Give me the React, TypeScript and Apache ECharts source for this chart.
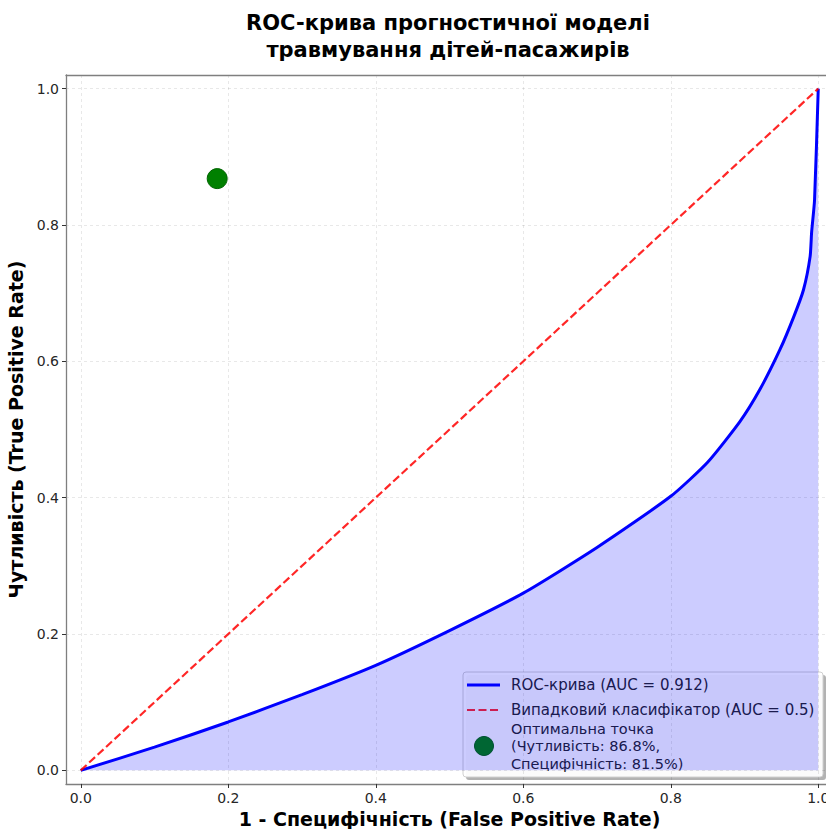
import React, { useEffect, useRef } from "react";
import * as echarts from "echarts";

const fpr = [0, 0.1, 0.2, 0.3, 0.4, 0.5, 0.6, 0.7, 0.8, 0.85, 0.894, 0.921, 0.948, 0.967, 0.98, 0.989, 0.991, 0.995, 1.0];
const tpr = [0, 0.034, 0.071, 0.111, 0.154, 0.205, 0.26, 0.327, 0.402, 0.452, 0.512, 0.559, 0.617, 0.666, 0.705, 0.754, 0.789, 0.837, 1.0];
const diagX = [0, 1];
const diagY = [0, 1];
const optimalPoint = [0.185, 0.868];
const tickValues = [0, 0.2, 0.4, 0.6, 0.8, 1.0];

const titleText = "ROC-крива прогностичної моделі\nтравмування дітей-пасажирів";
const xName = "1 - Специфічність (False Positive Rate)";
const yName = "Чутливість (True Positive Rate)";
const legendRoc = "ROC-крива (AUC = 0.912)";
const legendRandom = "Випадковий класифікатор (AUC = 0.5)";
const legendOptLines = ["Оптимальна точка", "(Чутливість: 86.8%,", "Специфічність: 81.5%)"];

const FONT = "DejaVu Sans";
const SPINE = { show: true, onZero: false, lineStyle: { color: "#7f7f7f", width: 1.3 } };

export default function App() {
  const ref = useRef<HTMLDivElement>(null);
  useEffect(() => {
    if (!ref.current) return;
    const chart = echarts.init(ref.current, null, { renderer: "svg" });
    const axisCommon = (name: string, gap: number, min: number, max: number) => ({
      type: "value",
      min,
      max,
      name,
      nameLocation: "middle",
      nameGap: gap,
      nameTextStyle: { fontFamily: FONT, fontSize: 19, fontWeight: "bold", color: "#000" },
      axisLine: SPINE,
      axisTick: { show: true, customValues: tickValues, length: 4, lineStyle: { color: "#333", width: 1 } },
      axisLabel: {
        customValues: tickValues,
        formatter: (v: number) => v.toFixed(1),
        fontFamily: FONT,
        fontSize: 14,
        color: "#262626",
        margin: 7,
        hideOverlap: false,
      },
      splitLine: { show: true, lineStyle: { color: "rgba(0,0,0,0.09)", type: [3, 3], width: 1 } },
    });
    const xMin = -0.02;
    const xMax = 1.02;
    const legendOptTexts = legendOptLines.map((t, i) => ({
      type: "text",
      x: 511,
      y: 728.5 + i * 17.5,
      style: { text: t, fontFamily: FONT, fontSize: 14.5, fill: "#222", verticalAlign: "middle" },
    }));
    chart.setOption({
      animation: false,
      backgroundColor: "#fff",
      title: {
        text: titleText,
        left: 443,
        top: 4,
        textAlign: "center",
        textStyle: { fontFamily: FONT, fontSize: 21, fontWeight: "bold", color: "#000", lineHeight: 27 },
      },
      grid: { left: 66, top: 75, right: -7, bottom: 45, outerBoundsMode: "none", containLabel: false },
      xAxis: [
        { ...axisCommon(xName, 23, xMin, xMax), position: "bottom" },
        {
          type: "value",
          position: "top",
          min: xMin,
          max: xMax,
          axisLine: SPINE,
          axisTick: { show: false },
          axisLabel: { show: false },
          splitLine: { show: false },
        },
      ],
      yAxis: axisCommon(yName, 34, -0.02, 1.02),
      series: [
        {
          type: "line",
          name: legendRoc,
          xAxisIndex: 0,
          data: fpr.map((x, i) => [x, tpr[i]]),
          showSymbol: false,
          smooth: 0.2,
          lineStyle: { color: "#0000ff", width: 3 },
          areaStyle: { color: "rgba(0,0,255,0.2)", opacity: 1, origin: 0 },
          z: 3,
        },
        {
          type: "line",
          name: legendRandom,
          xAxisIndex: 0,
          data: diagX.map((x, i) => [x, diagY[i]]),
          showSymbol: false,
          lineStyle: { color: "rgba(255,0,0,0.85)", width: 2.2, type: [8, 3.5] },
          z: 4,
        },
        {
          type: "scatter",
          name: "opt",
          xAxisIndex: 0,
          data: [optimalPoint],
          symbolSize: 20,
          itemStyle: { color: "#008000", borderColor: "#006400", borderWidth: 1, opacity: 1 },
          z: 5,
        },
      ],
      graphic: [
        {
          type: "group",
          z: 100,
          children: [
            { type: "rect", shape: { x: 466, y: 675, width: 360, height: 105, r: 3 }, style: { fill: "rgba(0,0,0,0.3)" } },
            { type: "rect", shape: { x: 463, y: 672, width: 360, height: 105, r: 3 }, style: { fill: "rgba(255,255,255,0.95)", stroke: "#d0d0d0", lineWidth: 1 } },
            { type: "line", shape: { x1: 467, y1: 685, x2: 500, y2: 685 }, style: { stroke: "#0000ff", lineWidth: 3 } },
            { type: "text", x: 511, y: 685, style: { text: legendRoc, fontFamily: FONT, fontSize: 15, fill: "#222", verticalAlign: "middle" } },
            { type: "line", shape: { x1: 467, y1: 710, x2: 500, y2: 710 }, style: { stroke: "rgba(255,0,0,0.85)", lineWidth: 2.2, lineDash: [8, 3.5] } },
            { type: "text", x: 511, y: 710, style: { text: legendRandom, fontFamily: FONT, fontSize: 15, fill: "#222", verticalAlign: "middle" } },
            { type: "circle", shape: { cx: 484, cy: 746, r: 9.5 }, style: { fill: "#008000", stroke: "#006400", lineWidth: 1 } },
            ...legendOptTexts,
          ],
        },
      ],
    });
    return () => chart.dispose();
  }, []);
  return <div ref={ref} style={{ position: "fixed", left: 0, top: 0, width: 826, height: 829 }} />;
}
